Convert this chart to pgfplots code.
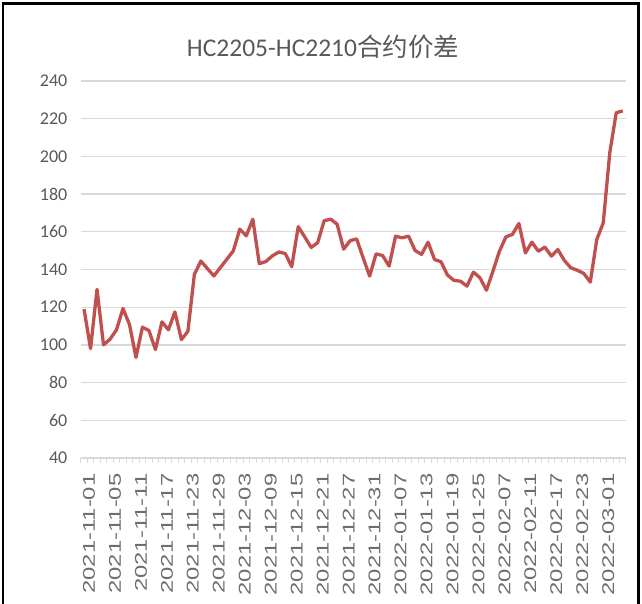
\documentclass[border=0pt]{standalone}
\usepackage{pgfplots}
\pgfplotsset{compat=1.18}
\usepackage{fontspec}
\setmainfont{Carlito}
\newfontfamily\cjk{Noto Sans CJK SC}
\newfontfamily\arialf{Liberation Sans}
\definecolor{linered}{RGB}{192,80,77}
\definecolor{txtgray}{RGB}{89,89,89}
\definecolor{lblgray}{RGB}{110,110,110}
\definecolor{gridgray}{RGB}{217,217,217}
\newcommand{\xl}[1]{\scalebox{1.4}[1]{#1}}
\pgfplotstableread{
x y
0 119
1 98
2 129.5
3 100
4 103
5 108
6 119.3
7 110.8
8 93.4
9 109.4
10 107.6
11 97.5
12 112.2
13 108
14 117.5
15 102.8
16 107.2
17 137.4
18 144.5
19 140.5
20 136.6
21 141
22 145.4
23 149.9
24 161.4
25 157.9
26 166.7
27 143.1
28 144.2
29 147.2
30 149.3
31 148.5
32 141.5
33 162.7
34 157.3
35 151.7
36 154.3
37 165.9
38 166.7
39 164
40 150.8
41 155.3
42 156.2
43 146.2
44 136.5
45 148.3
46 147.4
47 141.8
48 157.7
49 156.8
50 157.7
51 150.1
52 148
53 154.5
54 145.3
55 144.1
56 137
57 134.2
58 133.8
59 131.2
60 138.6
61 135.6
62 129
63 139.1
64 149.7
65 157.3
66 158.6
67 164.4
68 148.8
69 154.5
70 149.7
71 151.9
72 147.1
73 150.6
74 144.8
75 140.9
76 139.6
77 137.9
78 133.3
79 155.9
80 164.8
81 201.9
82 223.2
83 224.1
}\spread
\begin{document}
\begin{tikzpicture}[x=1pt,y=1pt]
\useasboundingbox (0,0) rectangle (642,604);
\draw[black, line width=2.5pt] (3,-3) -- (3,600.5) -- (638.5,600.5) -- (638.5,-3);
\begin{axis}[
  at={(80.8pt,146pt)}, anchor=south west,
  scale only axis, width=545.2pt, height=377pt,
  xmin=-0.5, xmax=83.5, ymin=40, ymax=240,
  ytick={40,60,...,240},
  xtick={0,4,...,80},
  minor xtick={-0.5,0.5,...,83.6},
  xtick pos=lower, ytick pos=left,
  major tick length=0pt, minor tick length=5pt, tick align=outside,
  minor tick style={gridgray, line width=1pt},
  axis line style={draw=none},
  ymajorgrids, grid style={gridgray, line width=1.3pt},
  /pgf/number format/assume math mode=true,
  yticklabel style={font=\fontsize{18}{18}\selectfont, text=txtgray, xshift=-10pt},
  xticklabel style={rotate=90, anchor=east, font=\arialf\fontsize{17}{17}\selectfont, text=lblgray, xshift=-12pt, yshift=-5pt},
  xticklabels={\xl{2021-11-01},\xl{2021-11-05},\xl{2021-11-11},\xl{2021-11-17},\xl{2021-11-23},\xl{2021-11-29},\xl{2021-12-03},\xl{2021-12-09},\xl{2021-12-15},\xl{2021-12-21},\xl{2021-12-27},\xl{2021-12-31},\xl{2022-01-07},\xl{2022-01-13},\xl{2022-01-19},\xl{2022-01-25},\xl{2022-02-07},\xl{2022-02-11},\xl{2022-02-17},\xl{2022-02-23},\xl{2022-03-01}},
  clip=false,
]
\addplot[linered, line width=3.3pt, line join=round] table[x=x,y=y] {\spread};
\end{axis}
\node[text=txtgray, font=\fontsize{25.5}{25.5}\selectfont] at (323,557) {HC2205-HC2210{\cjk 合约价差}};
\end{tikzpicture}
\end{document}
